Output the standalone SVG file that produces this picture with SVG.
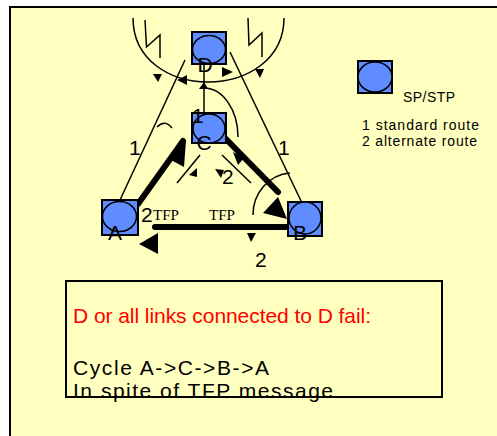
<svg xmlns="http://www.w3.org/2000/svg" width="497" height="436" viewBox="0 0 497 436">
<style>
.thin{fill:none;stroke:#000;stroke-width:1.5}
.thick{fill:none;stroke:#000;stroke-width:6;stroke-linecap:round}
.tri{fill:#000;stroke:none}
.sq{fill:#5F8DFF;stroke:#000;stroke-width:2}
.el{fill:#5F8DFF;stroke:#000;stroke-width:1.5}
.lbl{font-family:"Liberation Sans",Arial,sans-serif;font-size:21px;fill:#000}
.tfp{font-family:"Liberation Serif","Times New Roman",serif;font-size:15px;fill:#000}
.leg{font-family:"Liberation Sans",Arial,sans-serif;font-size:14px;fill:#000}
.box{font-family:"Liberation Sans",Arial,sans-serif;font-size:21px}
</style>
<rect x="0" y="0" width="497" height="436" fill="#fff"/>
<rect x="10" y="7" width="500" height="440" fill="#FFFFC0" stroke="#000" stroke-width="2"/>

<g id="connectors">
  <path class="thin" d="M133,18 C133,60 170,82 208,82 C246,82 284,60 284,18"/>
  <polyline class="thin" points="145,20 146.5,47 160,35 160,58"/>
  <polyline class="thin" points="248,18 249,45 262,33 262,57"/>
  <polygon class="tri" points="153,74 162,74 158,82"/>
  <polygon class="tri" points="177,80 187,75 187,85"/>
  <polygon class="tri" points="233,72 222,67 222,77"/>
  <polygon class="tri" points="255,69 264,69 260,78"/>
  <line class="thin" x1="204" y1="64" x2="204" y2="113"/>
  <polygon class="tri" points="204,82 199,89 208,89"/>
  <path class="thin" d="M204,88 A34,49 0 0 1 238,137"/>
  <line class="thin" x1="120" y1="200" x2="185" y2="60"/>
  <line class="thin" x1="230" y1="52" x2="302" y2="203"/>
  <line class="thick" x1="138" y1="204" x2="183" y2="141"/>
  <polygon class="tri" points="186,140 171,160 184,167"/>
  <path class="thin" d="M157,127 Q165,119 172,128"/>
  <line class="thick" x1="226" y1="139" x2="278" y2="192"/>
  <polygon class="tri" points="287,219 263,213 278,197"/>
  <polygon class="tri" points="233,152 244,158 238,165"/>
  <path class="thin" d="M253,215 A40,42 0 0 1 290,173"/>
  <line class="thin" x1="200" y1="155" x2="177" y2="183"/>
  <line class="thin" x1="222" y1="155" x2="251" y2="183"/>
  <polygon class="tri" points="197,168 197,177 189,175"/>
  <polygon class="tri" points="215,169 224,170 221,178"/>
  <line class="thick" x1="155" y1="227" x2="290" y2="227"/>
  <polygon class="tri" points="139,244 158,233 158,254"/>
  <polygon class="tri" points="247,233 256,233 251,242"/>
</g>

<g id="node-D">
  <rect class="sq" x="192" y="32" width="34" height="32"/>
  <ellipse class="el" cx="209" cy="49.5" rx="16.5" ry="14"/>
  <text class="lbl" x="205" y="72" text-anchor="middle">D</text>
</g>
<g id="node-C">
  <rect class="sq" x="192" y="113" width="34" height="30"/>
  <ellipse class="el" cx="209" cy="128.5" rx="16" ry="14.5"/>
  <text class="lbl" x="204" y="150" text-anchor="middle">C</text>
</g>
<g id="node-A">
  <rect class="sq" x="102" y="200" width="36" height="35"/>
  <ellipse class="el" cx="119.5" cy="216.5" rx="17" ry="15"/>
  <text class="lbl" x="115" y="240" text-anchor="middle">A</text>
</g>
<g id="node-B">
  <rect class="sq" x="288" y="202" width="34" height="34"/>
  <ellipse class="el" cx="305" cy="218" rx="16" ry="16"/>
  <text class="lbl" x="300" y="240" text-anchor="middle">B</text>
</g>

<g id="labels">
  <text class="lbl" x="192" y="123" font-size="15">1</text>
  <text class="lbl" x="129" y="155" font-size="22">1</text>
  <text class="lbl" x="278" y="155" font-size="22">1</text>
  <text class="lbl" x="141" y="222" font-size="22">2</text>
  <text class="lbl" x="222" y="184" font-size="22">2</text>
  <text class="lbl" x="255" y="267" font-size="22">2</text>
  <text class="tfp" x="153" y="220">TFP</text>
  <text class="tfp" x="209" y="220">TFP</text>
</g>

<g id="legend">
  <rect class="sq" x="358" y="61" width="34" height="32"/>
  <ellipse class="el" cx="375" cy="77" rx="17" ry="15"/>
  <text class="leg" x="403" y="102" textLength="52">SP/STP</text>
  <text class="leg" x="362" y="130" textLength="117">1  standard route</text>
  <text class="leg" x="362" y="146" textLength="115">2  alternate route</text>
</g>

<g id="note">
  <rect x="66" y="281" width="376" height="116" fill="none" stroke="#000" stroke-width="2"/>
  <text class="box" x="73" y="323" fill="#FF0000" textLength="298">D or all links connected to D fail:</text>
  <text class="box" x="73" y="375" fill="#000" textLength="196">Cycle A-&gt;C-&gt;B-&gt;A</text>
  <text class="box" x="73" y="398" fill="#000" textLength="260">In spite of TFP message</text>
</g>
</svg>
